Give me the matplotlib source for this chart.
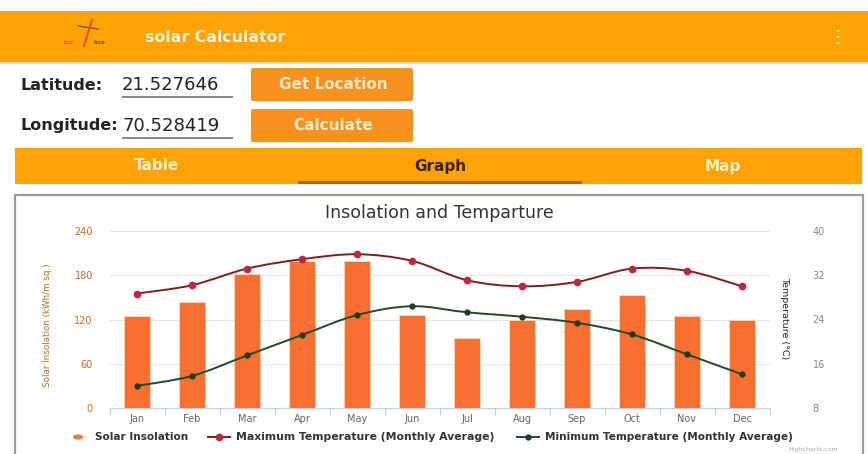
import numpy as np
import matplotlib.pyplot as plt
from matplotlib.patches import Rectangle, FancyBboxPatch, PathPatch, Circle
from matplotlib.path import Path
from matplotlib.lines import Line2D

months = ['Jan', 'Feb', 'Mar', 'Apr', 'May', 'Jun', 'Jul', 'Aug', 'Sep', 'Oct', 'Nov', 'Dec']
insolation = [125, 144, 182, 200, 199, 126, 95, 119, 134, 153, 125, 119]
max_temp = [28.7, 30.2, 33.2, 34.9, 35.8, 34.6, 31.1, 30.0, 30.8, 33.2, 32.8, 30.0]
min_temp = [12.0, 13.8, 17.5, 21.2, 24.8, 26.4, 25.3, 24.5, 23.4, 21.3, 17.7, 14.1]
left_ticks = [0, 60, 120, 180, 240]
right_ticks = [8, 16, 24, 32, 40]

W, H = 868, 454
fig = plt.figure(figsize=(W / 100, H / 100), dpi=100)
fig.patch.set_facecolor('white')


def fx(x):
    return x / W


def fy(y):
    return 1 - y / H


def box(x0, y0, x1, y1, color, **kw):
    fig.patches.append(Rectangle((fx(x0), fy(y1)), fx(x1) - fx(x0), fy(y0) - fy(y1),
                                 transform=fig.transFigure, facecolor=color,
                                 edgecolor='none', **kw))


amber = '#FFA305'
btn = '#F7911F'
ui = 'DejaVu Sans'

# app bar
box(0, 11, W, 62, amber)
box(0, 62, W, 64, '#E8D9BF')
fig.text(fx(145), fy(38), 'solar Calculator', color='#FFF3D6', fontsize=11.3,
         fontweight='bold', family=ui, va='center')
for yy in (31, 37, 43):
    fig.patches.append(Circle((fx(838), fy(yy)), 0.0022, transform=fig.transFigure,
                              facecolor='#FFE9B8', edgecolor='none'))
# logo
fig.lines.append(Line2D([fx(78), fx(98)], [fy(26), fy(29)], transform=fig.transFigure, color='#6B5A1E', lw=1))
fig.lines.append(Line2D([fx(92), fx(84)], [fy(20), fy(46)], transform=fig.transFigure, color='#E8531E', lw=1.5))
fig.text(fx(64), fy(42), 'isro', fontsize=4, color='#C2410C', va='center', family=ui)
fig.text(fx(94), fy(42), 'isro', fontsize=4, color='#1F6B45', va='center', family=ui, fontweight='bold')

# input rows
fig.text(fx(20), fy(85), 'Latitude:', fontsize=11.5, fontweight='bold', color='#222222', family=ui, va='center')
fig.text(fx(122), fy(85), '21.527646', fontsize=13, color='#222222', family=ui, va='center')
fig.text(fx(20), fy(126), 'Longitude:', fontsize=11.5, fontweight='bold', color='#222222', family=ui, va='center')
fig.text(fx(122), fy(126), '70.528419', fontsize=13, color='#222222', family=ui, va='center')
for yy in (96, 137):
    box(122, yy, 233, yy + 1.5, '#8A8A8A')
for (y0, y1, label) in [(68, 101, 'Get Location'), (109, 142, 'Calculate')]:
    fig.patches.append(FancyBboxPatch((fx(251), fy(y1)), fx(413) - fx(251), fy(y0) - fy(y1),
                                      boxstyle='round,pad=0,rounding_size=0.003',
                                      transform=fig.transFigure, facecolor=btn, edgecolor='none'))
    fig.text(fx(333), fy((y0 + y1) / 2), label, fontsize=11, fontweight='bold', color='#FFE8C8',
             family=ui, ha='center', va='center')

# tabs
box(15, 148, 862, 184, amber)
box(298, 181, 582, 184, '#C2531A')
fig.text(fx(157), fy(166), 'Table', fontsize=11, fontweight='bold', color='#FFEFC8', family=ui, ha='center', va='center')
fig.text(fx(440), fy(166), 'Graph', fontsize=11, fontweight='bold', color='#3A2205', family=ui, ha='center', va='center')
fig.text(fx(723), fy(166), 'Map', fontsize=11, fontweight='bold', color='#FFEFC8', family=ui, ha='center', va='center')

# chart frame
fig.lines.append(Line2D([fx(15), fx(15), fx(863), fx(863)], [fy(454), fy(195), fy(195), fy(454)],
                        transform=fig.transFigure, color='#9A9A9A', lw=1.6))

# chart
ax = fig.add_axes([fx(109.5), fy(408), fx(769.5) - fx(109.5), fy(231) - fy(408)])
ax2 = ax.twinx()
x = np.arange(len(months))

ax.bar(x, insolation, width=0.47, color='#FA7030', edgecolor='#FBD9B5', linewidth=0.6, zorder=2)
ax.set_xlim(-0.5, len(months) - 0.5)
ax.set_ylim(0, 240)
ax.set_yticks(left_ticks)
ax.set_xticks(x)
ax.set_xticklabels(months)
ax.set_xticks(np.arange(-0.5, len(months), 1), minor=True)
ax.tick_params(axis='x', which='major', length=0, labelsize=7, colors='#666666', pad=4)
ax.tick_params(axis='x', which='minor', length=5, color='#C0D0E0', width=0.8)
ax.tick_params(axis='y', length=0, labelsize=7, labelcolor='#D2691E', pad=12)
ax.grid(axis='y', color='#E6E6E6', lw=0.8, zorder=0)
for s in ('top', 'left', 'right'):
    ax.spines[s].set_visible(False)
ax.spines['bottom'].set_color('#C0D0E0')
ax.set_ylabel('Solar Insolation (kWh/m sq.)', fontsize=6.3, color='#C8651B', family='Liberation Sans Narrow')
ax.yaxis.set_label_coords(-0.087, 0.47)
ax.set_title('Insolation and Temparture', fontsize=12.5, color='#333333', pad=9)

ax2.set_ylim(8, 40)
ax2.set_yticks(right_ticks)
ax2.tick_params(axis='y', length=0, labelsize=7, labelcolor='#888888', pad=31)
for s in ax2.spines.values():
    s.set_visible(False)
ax2.set_ylabel('Temperature (°C)', fontsize=6.8, color='#222222', rotation=270,
               family='Liberation Sans Narrow', va='center')
ax2.yaxis.set_label_coords(1.0235, 0.51)


def spline(axis, ys, color):
    pts = np.column_stack([x, ys]).astype(float)
    verts = [pts[0]]
    codes = [Path.MOVETO]
    n = len(pts)
    for i in range(n - 1):
        p0 = pts[max(i - 1, 0)]
        p1 = pts[i]
        p2 = pts[i + 1]
        p3 = pts[min(i + 2, n - 1)]
        verts += [p1 + (p2 - p0) / 6, p2 - (p3 - p1) / 6, p2]
        codes += [Path.CURVE4] * 3
    axis.add_patch(PathPatch(Path(verts, codes), facecolor='none', edgecolor=color, lw=1.4, zorder=3))


spline(ax2, max_temp, '#7A1E1E')
ax2.plot(x, max_temp, 'o', color='#C0263A', ms=4.5, zorder=4)
spline(ax2, min_temp, '#1E4A28')
ax2.plot(x, min_temp, 'o', color='#1E3A22', ms=3.5, zorder=4)

# legend
fig.patches.append(Circle((fx(78), fy(437)), 0.0058, transform=fig.transFigure, facecolor='#F47A3A', edgecolor='none'))
fig.text(fx(95), fy(437), 'Solar Insolation', fontsize=7.6, fontweight='bold', color='#333333', va='center')
fig.lines.append(Line2D([fx(208), fx(230)], [fy(437), fy(437)], transform=fig.transFigure, color='#7A1E1E', lw=1.4))
fig.lines.append(Line2D([fx(219)], [fy(437)], transform=fig.transFigure, marker='o', color='#C0263A', ms=4.5))
fig.text(fx(236), fy(437), 'Maximum Temperature (Monthly Average)', fontsize=7.8, fontweight='bold', color='#333333', va='center')
fig.lines.append(Line2D([fx(517), fx(539)], [fy(437), fy(437)], transform=fig.transFigure, color='#1E4A28', lw=1.4))
fig.lines.append(Line2D([fx(528)], [fy(437)], transform=fig.transFigure, marker='o', color='#1E3A22', ms=3.5))
fig.text(fx(545), fy(437), 'Minimum Temperature (Monthly Average)', fontsize=7.6, fontweight='bold', color='#333333', va='center')
fig.text(fx(838), fy(449), 'Highcharts.com', fontsize=4.5, color='#AAAAAA', ha='right', va='center')

fig.savefig('out.png', dpi=100)
